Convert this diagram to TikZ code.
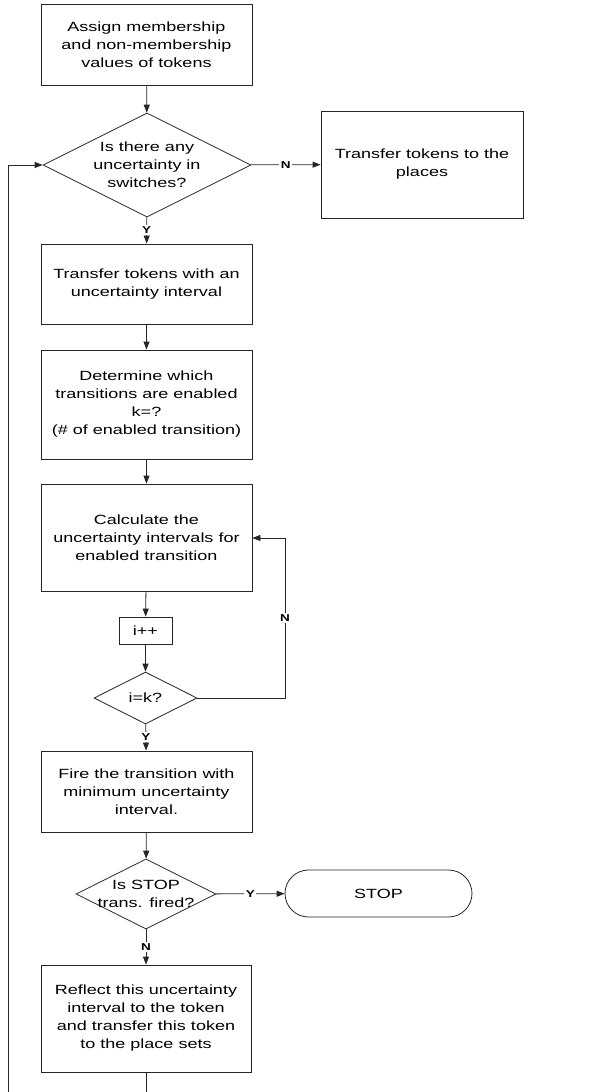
\documentclass[tikz,border=0pt]{standalone}
\usepackage{fontspec}
\setmainfont{Liberation Sans}[FakeStretch=1.35]
\usetikzlibrary{shapes.geometric,shapes.misc,arrows.meta}
\begin{document}
\begin{tikzpicture}[x=0.75pt,y=-0.75pt,
  font=\fontsize{10pt}{13.5pt}\selectfont,
  line width=0.6pt, draw=black!85,
  proc/.style={draw, rectangle, align=center, inner sep=0pt,
    minimum width=158.25pt},
  decision/.style={draw, diamond, inner sep=0pt,
    label={[align=center]center:#1}},
  term/.style={draw, rounded rectangle, inner sep=0pt,
    minimum width=140.25pt, minimum height=35.25pt},
  yn/.style={fill=white, inner sep=1.2pt,
    font=\fontsize{7.5pt}{8pt}\selectfont\bfseries},
  flow/.style={-{Triangle[length=6pt,width=4.5pt]}}]
\useasboundingbox (0,0) rectangle (594,1092);

% main column
\node[proc, minimum height=60.75pt] (assign) at (146.5,44.5)
  {Assign membership\\and non-membership\\values of tokens};
\node[decision={Is there any\\uncertainty in\\switches?},
  minimum width=156pt, minimum height=78pt] (dec1) at (147,165) {};
\node[proc, minimum width=151.5pt, minimum height=80.25pt] (places) at (422,164.5)
  {Transfer tokens to the\\places};
\node[proc, minimum height=60pt] (xfer) at (146.5,284)
  {Transfer tokens with an\\uncertainty interval};
\node[proc, minimum height=81.75pt] (enabled) at (146.5,404.5)
  {Determine which\\transitions are enabled\\k=?\\(\# of enabled transition)};
\node[proc, minimum height=80.25pt] (calc) at (146.5,537.5)
  {Calculate the\\uncertainty intervals for\\enabled transition};
\node[proc, minimum width=39.75pt, minimum height=20.25pt] (inc) at (145.5,630.5)
  {i++};
\node[decision={i=k?}, minimum width=77.25pt, minimum height=39pt] (dec2) at (145.5,698) {};
\node[proc, minimum height=60.75pt] (fire) at (146.5,791.5)
  {Fire the transition with\\minimum uncertainty\\interval.};
\node[decision={Is STOP\\trans. fired?}, minimum width=105pt, minimum height=52.5pt]
  (dec3) at (146,894) {};
\node[term] (stop) at (378.5,893.5) {STOP};
\node[proc, minimum width=157.5pt, minimum height=80.25pt] (reflect) at (146,1018.5)
  {Reflect this uncertainty\\interval to the token\\and transfer this token\\to the place sets};

% loop-back ends at the lower border
\coordinate (outA) at (146,1092);
\coordinate (outB) at (8,1092);
\coordinate (nbend1) at (285,698);
\coordinate (nbend2) at (285,538);
\coordinate (loopTop) at (8,165);

% connectors
\draw[flow] (assign) -- (dec1);
\draw[flow] (dec1) -- node[yn]{N} (places);
\draw[flow] (dec1) -- node[yn]{Y} (xfer);
\draw[flow] (xfer) -- (enabled);
\draw[flow] (enabled) -- (calc);
\draw[flow] (calc) -- (inc);
\draw[flow] (inc) -- (dec2);
\draw[flow] (dec2.east) -- (nbend1) -- node[yn]{N} (nbend2) -- (calc.east |- nbend2);
\draw[flow] (dec2) -- node[yn]{Y} (fire);
\draw[flow] (fire) -- (dec3);
\draw[flow] (dec3) -- node[yn]{Y} (stop);
\draw[flow] (dec3) -- node[yn]{N} (reflect);
\draw (reflect) -- (outA);
\draw[flow] (outB) -- (loopTop) -- (dec1.west);
\end{tikzpicture}
\end{document}
